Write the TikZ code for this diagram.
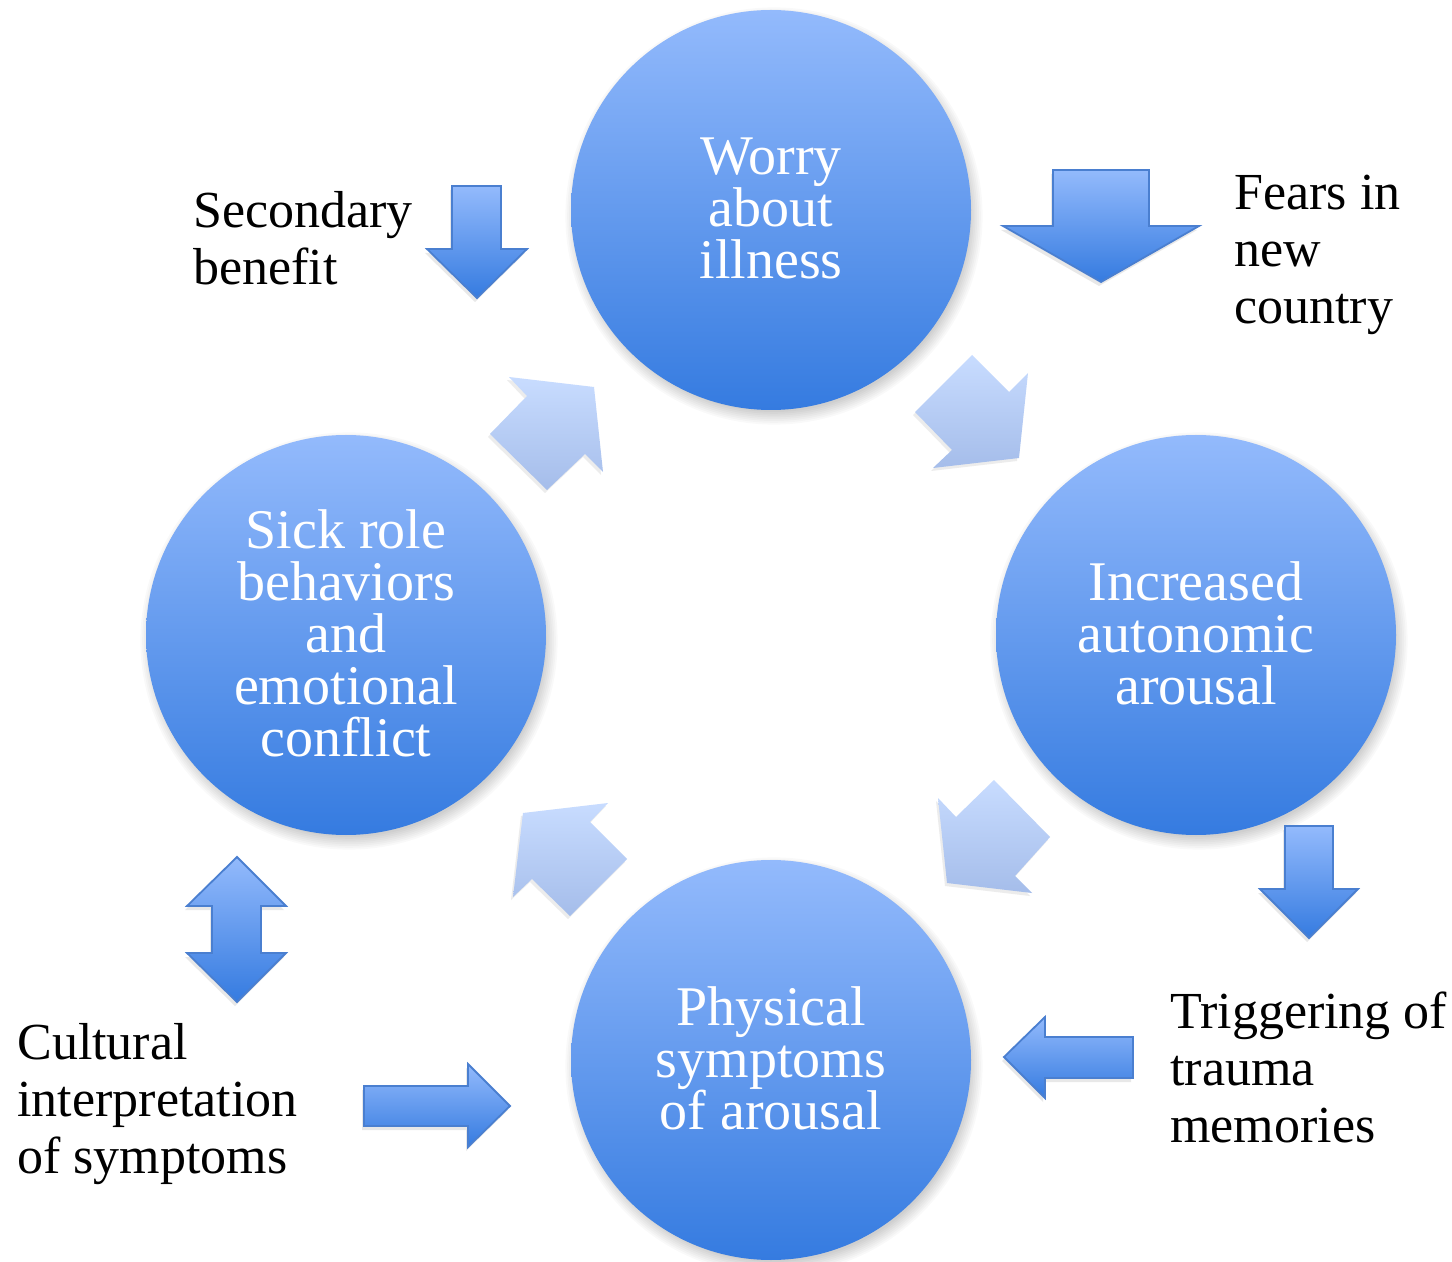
\documentclass[tikz,border=0pt]{standalone}
\usepackage{fontspec}
\setmainfont{Liberation Serif}
\usetikzlibrary{shadows}
\definecolor{ctop}{HTML}{93BAFC}
\definecolor{cbot}{HTML}{357BE0}
\definecolor{ltop}{HTML}{C8DCFF}
\definecolor{lbot}{HTML}{A5BDEA}
\definecolor{aedge}{HTML}{4A7FD0}
\begin{document}
\begin{tikzpicture}[x=0.5pt,y=-0.5pt,
  bubble/.style={circle, minimum size=200pt, inner sep=0pt, top color=ctop, bottom color=cbot},
  bubbletext/.style={inner sep=0pt, text=white, align=center, yshift=1pt,
    font=\fontsize{28}{26}\selectfont},
  cyclearrow/.style={top color=ltop, bottom color=lbot, draw=none,
    drop shadow={opacity=0.15, shadow xshift=-1pt, shadow yshift=-1.5pt}},
  blockarrow/.style={top color=ctop, bottom color=cbot, draw=aedge, line width=0.9pt, line join=miter,
    drop shadow={opacity=0.18, shadow xshift=-1pt, shadow yshift=-2pt}},
  lbl/.style={anchor=north west, inner sep=0pt, align=left, font=\fontsize{26}{28.5}\selectfont, text=black}]
\useasboundingbox (0,0) rectangle (1452,1262);
\fill[white] (0,0) rectangle (1452,1262);

% soft shadows of the circles
\foreach \x/\y in {771/210,1196/635,771/1060,346/635}{
  \foreach \k in {0,...,7}{
    \fill[black,opacity=0.025] (\x+3,\y+6) circle ({98pt+\k*0.9pt});
  }
}

% circles
\node[bubble] (worry) at (771,210) {};
\node[bubble] (arousal) at (1196,635) {};
\node[bubble] (physical) at (771,1060) {};
\node[bubble] (sick) at (346,635) {};
\node[bubbletext] (worrytext) at (worry.center) {Worry\\about\\illness};
\node[bubbletext] (arousaltext) at (arousal.center) {Increased\\autonomic\\arousal};
\node[bubbletext] (physicaltext) at (physical.center) {Physical\\symptoms\\of arousal};
\node[bubbletext] (sicktext) at (sick.center) {Sick role\\behaviors\\and\\emotional\\conflict};

% cycle arrows
\path[cyclearrow] (594,387) -- (603,472) -- (585,454) -- (547,490) -- (490,434) -- (527,396) -- (509,377) -- cycle;
\path[cyclearrow] (972,355) -- (1009,392) -- (1028,373) -- (1019,458) -- (933,468) -- (952,450) -- (915,412) -- cycle;
\path[cyclearrow] (994,780) -- (1050,837) -- (1015,876) -- (1032,893) -- (947,883) -- (938,798) -- (956,817) -- cycle;
\path[cyclearrow] (608,803) -- (590,822) -- (627,859) -- (570,916) -- (532,879) -- (513,897) -- (523,813) -- cycle;

% block arrows
\path[blockarrow] (452,186) -- (501,186) -- (501,249) -- (527,249) -- (477,298) -- (427,249) -- (452,249) -- cycle;
\path[blockarrow] (1053,170) -- (1149,170) -- (1149,226) -- (1199,226) -- (1101,282) -- (1003,226) -- (1053,226) -- cycle;
\path[blockarrow] (237,857) -- (286,906) -- (261,906) -- (261,953) -- (286,953) -- (237,1002) -- (187,953) -- (212,953) -- (212,906) -- (187,906) -- cycle;
\path[blockarrow] (364,1086) -- (468,1086) -- (468,1064) -- (510,1106) -- (468,1147) -- (468,1126) -- (364,1126) -- cycle;
\path[blockarrow] (1004,1057) -- (1045,1017) -- (1045,1037) -- (1133,1037) -- (1133,1078) -- (1045,1078) -- (1045,1098) -- cycle;
\path[blockarrow] (1285,826) -- (1333,826) -- (1333,889) -- (1358,889) -- (1309,938) -- (1260,889) -- (1285,889) -- cycle;

% outside labels
\node[lbl] (secondary) at (193,191) {Secondary\\benefit};
\node[lbl] (fears) at (1234,175) {Fears in\\new\\country};
\node[lbl] (cultural) at (17,1023) {Cultural\\interpretation\\of symptoms};
\node[lbl] (trigger) at (1170,991) {Triggering of\\trauma\\memories};
\end{tikzpicture}
\end{document}
